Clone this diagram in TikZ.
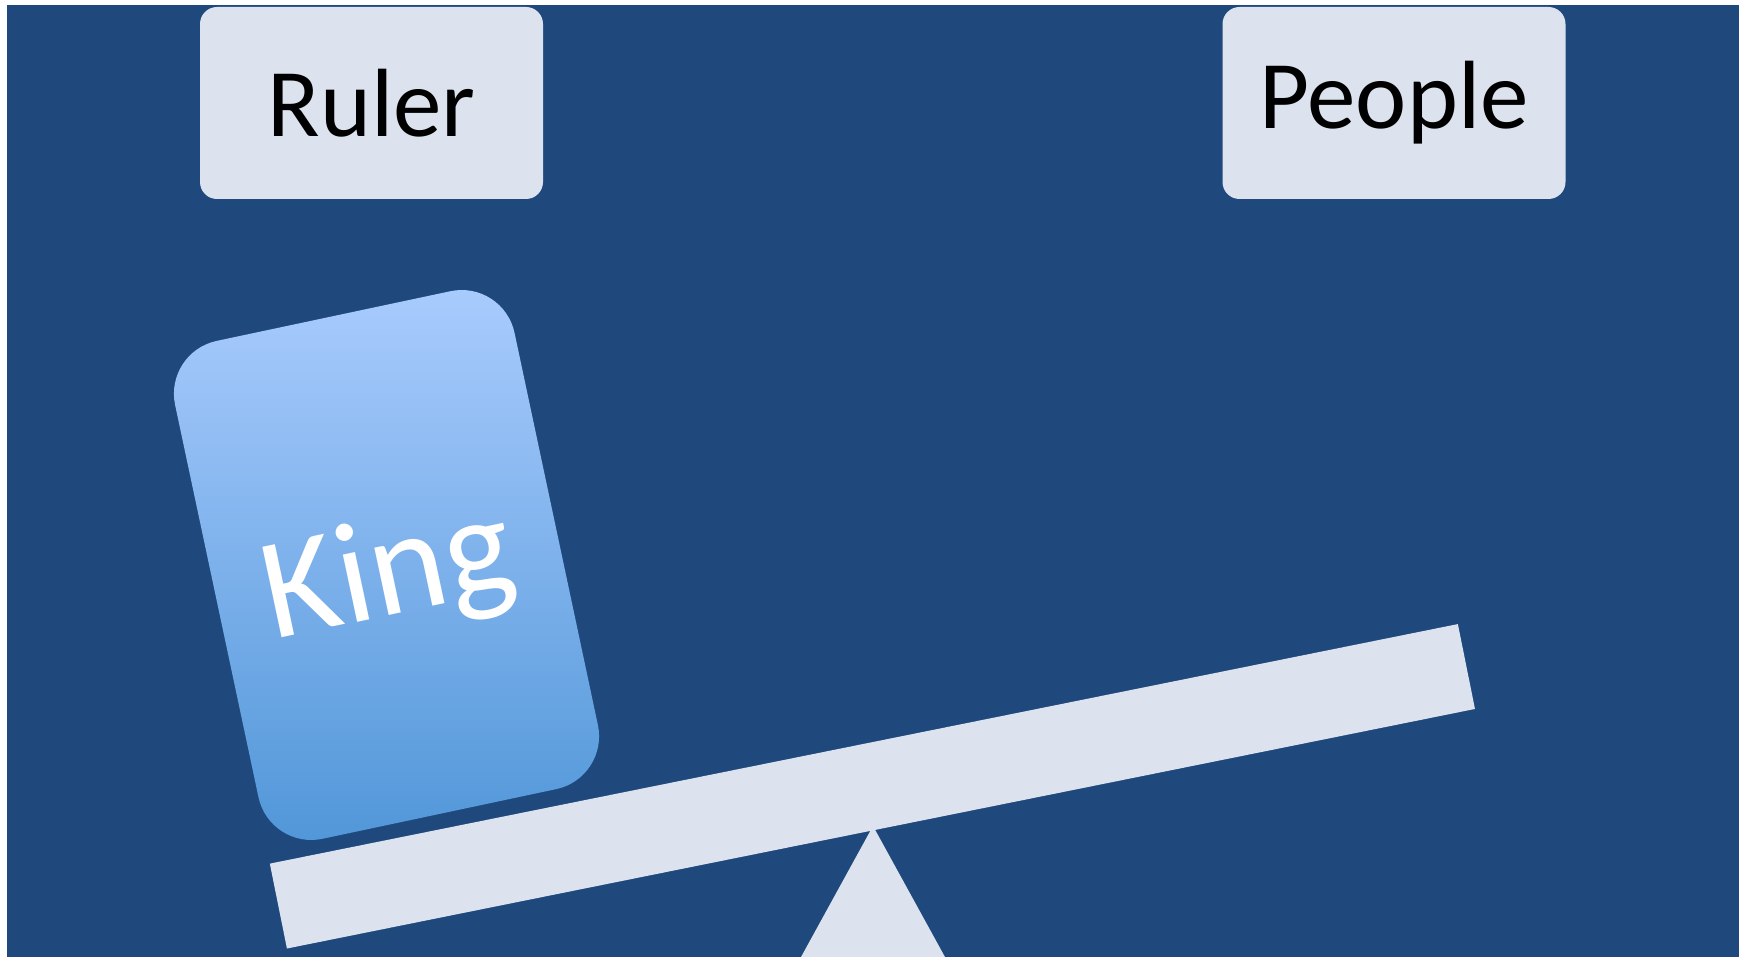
\documentclass[tikz,border=0pt]{standalone}
\usepackage{fontspec}
\setmainfont{Carlito}
\definecolor{bgblue}{HTML}{1F497D}
\definecolor{paleblue}{HTML}{DCE3EE}
\definecolor{kingtop}{HTML}{AACCFE}
\definecolor{kingbot}{HTML}{5096D8}
\tikzset{
  namebox/.style ={fill=paleblue, rounded corners=8.5pt, minimum width=171.5pt,
                   minimum height=96pt, inner sep=0pt, text=black,
                   font=\fontsize{48.5}{58}\selectfont},
  kingcard/.style={rounded corners=27pt, top color=kingtop, bottom color=kingbot,
                   minimum width=173.5pt, minimum height=254.5pt, inner sep=0pt,
                   text=white, text depth=0pt, rotate=12,
                   font=\fontsize{72}{86}\selectfont},
  plank/.style   ={fill=paleblue, minimum width=606pt, minimum height=43.3pt,
                   inner sep=0pt, rotate=11.4},
  pivot/.style   ={fill=paleblue}
}

\begin{document}
\begin{tikzpicture}[x=0.5pt,y=-0.5pt]
  \useasboundingbox (0,0) rectangle (1739,957);
  \clip (0,0) rectangle (1739,957);
  \fill[white] (0,0) rectangle (1739,957);
  \fill[bgblue] (7,5) rectangle (1739,957);

  % the two sides of the scale
  \node[namebox] (ruler)  at (371.5,103) {Ruler};
  \node[namebox] (people) at (1394,103)  {People};

  % weight on the low end
  \node[kingcard] (king) at (386.5,565) {King};

  % seesaw
  \node[plank] (beam) at (872.4,786.3) {};
  \coordinate (apex) at (873,826);
  \fill[pivot] (apex) -- (777.4,1000) -- (968.6,1000) -- cycle;
\end{tikzpicture}
\end{document}
